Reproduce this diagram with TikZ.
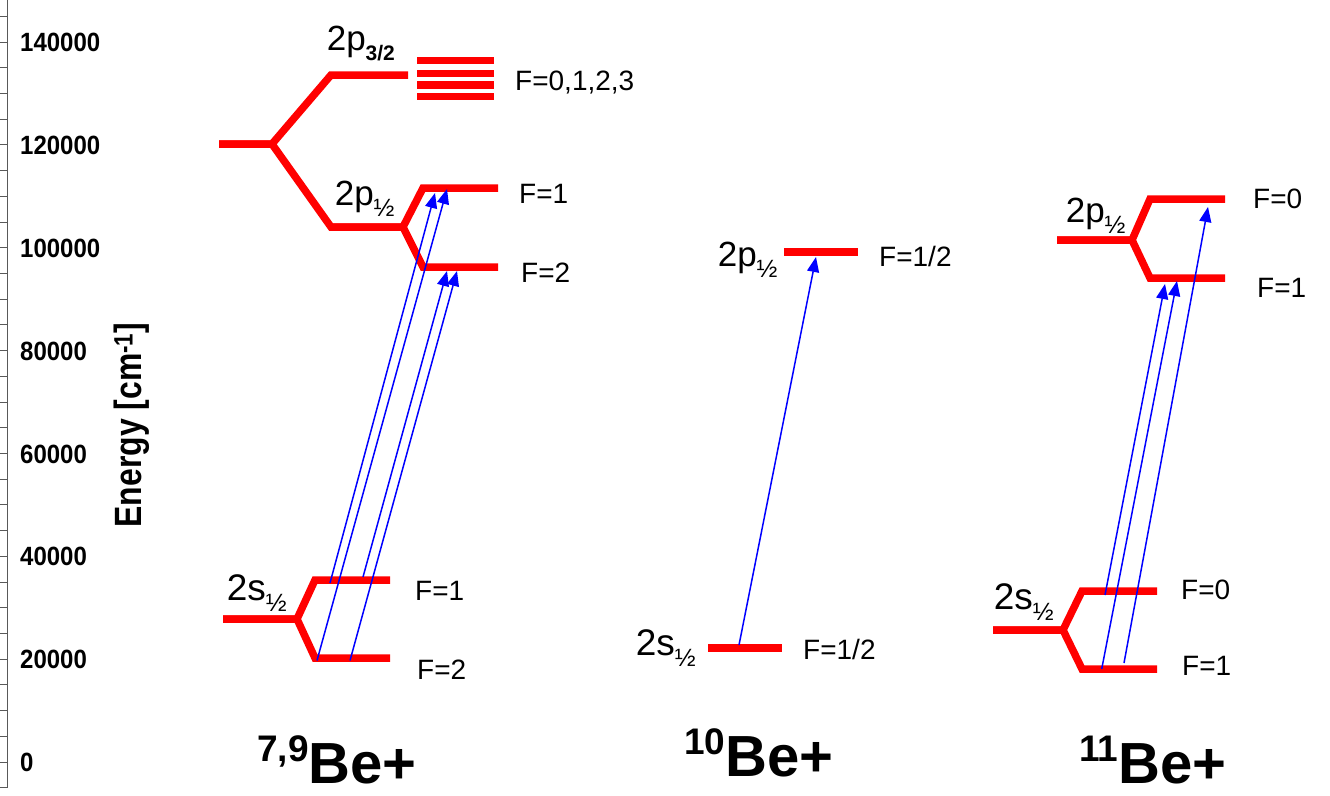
\documentclass[tikz,border=0pt]{standalone}
\usepackage{fontspec}
\setmainfont{Liberation Sans}
\usetikzlibrary{arrows.meta}
% subscript one-half used on the fine-structure labels
\newcommand\halfsub{{\fontsize{25}{25}\selectfont\raisebox{-11pt}{½}}}
\begin{document}
\begin{tikzpicture}[x=1pt,y=-1pt,
  lvl/.style={draw=red,line width=7.5pt,line join=miter},
  trans/.style={draw=blue,line width=1.5pt,-{Triangle[length=15pt,width=12pt]}},
  flab/.style={anchor=base west,inner sep=0pt,font=\fontsize{28}{28}\selectfont},
  orbp/.style={anchor=base west,inner sep=0pt,font=\fontsize{35}{35}\selectfont},
  orbs/.style={anchor=base west,inner sep=0pt,font=\fontsize{37}{37}\selectfont},
  ion/.style={anchor=base west,inner sep=0pt,font=\fontsize{58}{58}\selectfont\bfseries},
  ticklab/.style={anchor=base west,inner sep=0pt,font=\fontsize{24}{24}\selectfont\bfseries},
  axisline/.style={draw=black!65,line width=1pt}
]
\useasboundingbox (0,0) rectangle (1330,795);

% ---------- energy axis ----------
\draw[axisline] (7,0) -- (7,788);
\foreach \k in {-1,...,29}
  \draw[axisline] (0,{762-25.714*\k}) -- (7,{762-25.714*\k});
\foreach \k/\t in {0/0,1/20000,2/40000,3/60000,4/80000,5/100000,6/120000,7/140000}
  \node[ticklab] (tick\k) at (20,{762-102.86*\k+9.7}) {\scalebox{1}[1.1]{\t}};
\node[rotate=90,inner sep=0pt,font=\fontsize{38}{38}\selectfont\bfseries] (eaxis) at (132,425)
  {\scalebox{0.84}[1]{Energy [cm\textsuperscript{-1}]}};

% ---------- 7,9Be+ ----------
\draw[lvl] (219,144) -- (272,144) -- (331,75) -- (408,75);
\draw[lvl] (219,144) -- (272,144) -- (331,227) -- (403,227) -- (423,188) -- (498,188);
\draw[lvl] (331,227) -- (403,227) -- (423,267) -- (498,267);
\foreach \yy in {60.7,73.3,85,96.7}
  \draw[red,line width=7.5pt] (417,\yy) -- (494,\yy);
\draw[lvl] (223,619) -- (297,619) -- (315,580) -- (390,580);
\draw[lvl] (223,619) -- (297,619) -- (315,658) -- (390,658);

\node[orbp] (p32L) at (326.6,50) {2p{\fontsize{21}{21}\selectfont\bfseries\raisebox{-10pt}{3/2}}};
\node[orbp] (p12L) at (334.6,205) {2p\halfsub};
\node[orbs] (s12L) at (226.6,600) {2s\halfsub};
\node[flab] (fAllL) at (515,90.7) {F=0,1,2,3};
\node[flab] (fp1L) at (519,203) {F=1};
\node[flab] (fp2L) at (521,282) {F=2};
\node[flab] (fs1L) at (415,600) {F=1};
\node[flab] (fs2L) at (417,679) {F=2};

\coordinate (a1s) at (330,583);   \coordinate (a1e) at (435,193);
\coordinate (a2s) at (317,660.5); \coordinate (a2e) at (447,189);
\coordinate (a3s) at (363,577);   \coordinate (a3e) at (447,271);
\coordinate (a4s) at (350,660.5); \coordinate (a4e) at (457,271);
\draw[trans] (a1s) -- (a1e);
\draw[trans] (a2s) -- (a2e);
\draw[trans] (a3s) -- (a3e);
\draw[trans] (a4s) -- (a4e);

\node[ion] (ionL) at (257,783) {\raisebox{21.5pt}{\fontsize{37}{37}\selectfont 7,9}Be+};

% ---------- 10Be+ ----------
\draw[lvl] (784,252) -- (858,252);
\draw[lvl] (708,648) -- (782,648);
\node[orbp] (p12M) at (717.6,266) {2p\halfsub};
\node[orbs] (s12M) at (635.6,655) {2s\halfsub};
\node[flab] (fpM) at (879,266) {F=1/2};
\node[flab] (fsM) at (803,659) {F=1/2};
\coordinate (b1s) at (739,645); \coordinate (b1e) at (816,257);
\draw[trans] (b1s) -- (b1e);
\node[ion] (ionM) at (684,776) {\raisebox{21.5pt}{\fontsize{37}{37}\selectfont 10}Be+};

% ---------- 11Be+ ----------
\draw[lvl] (1057,240) -- (1132,240) -- (1150,199) -- (1225,199);
\draw[lvl] (1057,240) -- (1132,240) -- (1150,278) -- (1225,278);
\draw[lvl] (993,630) -- (1063,630) -- (1082,591) -- (1157,591);
\draw[lvl] (993,630) -- (1063,630) -- (1082,669) -- (1157,669);
\node[orbp] (p12R) at (1065.6,222) {2p\halfsub};
\node[orbs] (s12R) at (993.6,609) {2s\halfsub};
\node[flab] (fp0R) at (1253,208) {F=0};
\node[flab] (fp1R) at (1257,297) {F=1};
\node[flab] (fs0R) at (1181,599) {F=0};
\node[flab] (fs1R) at (1182,675) {F=1};
\coordinate (c1s) at (1105,595);   \coordinate (c1e) at (1165,284);
\coordinate (c2s) at (1101.7,669); \coordinate (c2e) at (1177,281);
\coordinate (c3s) at (1124,663);   \coordinate (c3e) at (1208,207);
\draw[trans] (c1s) -- (c1e);
\draw[trans] (c2s) -- (c2e);
\draw[trans] (c3s) -- (c3e);
\node[ion] (ionR) at (1079,783) {\raisebox{21.5pt}{\fontsize{37}{37}\selectfont 11}Be+};
\end{tikzpicture}
\end{document}
